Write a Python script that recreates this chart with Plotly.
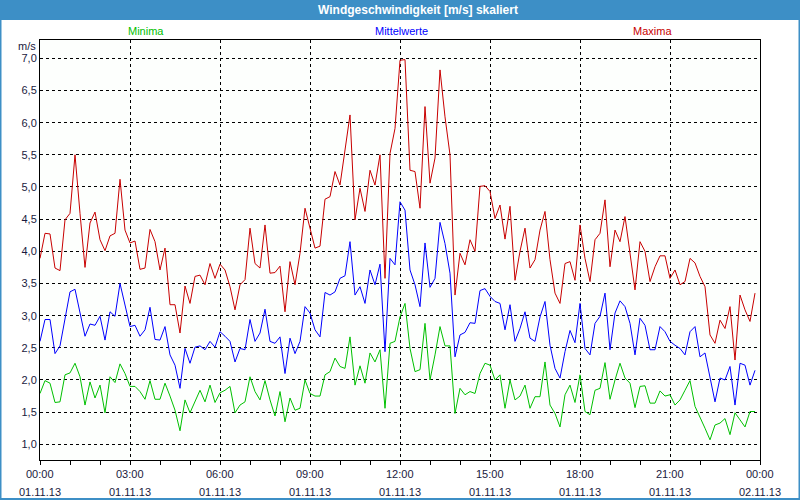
import plotly.graph_objects as go

# 10-minute samples, 00:00 .. 23:50 on 01.11.13 (hours)
n_points = 144
hours = [i / 6 for i in range(n_points)]

maxima = [
    3.89, 4.28, 4.27, 3.74, 3.70, 4.49, 4.59, 5.50, 4.59, 3.75, 4.44, 4.61, 4.18, 4.01, 4.24, 4.28, 5.12, 4.33, 4.13, 4.16, 3.72, 3.74, 4.34, 4.15,
    3.71, 4.05, 3.17, 3.17, 2.73, 3.46, 3.19, 3.61, 3.63, 3.48, 3.81, 3.58, 3.80, 3.71, 3.45, 3.09, 3.48, 3.56, 4.36, 3.81, 3.74, 4.41, 3.66, 3.67,
    3.77, 3.06, 3.84, 3.48, 3.97, 4.67, 4.36, 4.05, 4.08, 4.81, 4.85, 5.24, 5.03, 5.58, 6.12, 4.49, 4.98, 4.62, 5.26, 5.03, 5.50, 3.58, 5.52, 5.91,
    6.97, 6.98, 5.26, 5.24, 4.67, 6.25, 5.06, 5.45, 6.82, 6.09, 5.50, 3.32, 3.97, 3.79, 4.18, 4.00, 5.01, 5.02, 4.93, 4.51, 4.72, 4.19, 4.70, 3.55,
    4.00, 4.36, 3.74, 3.87, 4.33, 4.62, 3.87, 3.35, 3.19, 3.81, 3.84, 3.55, 4.41, 3.89, 3.53, 4.18, 4.28, 4.80, 3.76, 4.33, 4.15, 4.54, 3.97, 3.40,
    4.15, 4.00, 3.53, 3.76, 3.93, 3.93, 3.58, 3.71, 3.48, 3.53, 3.89, 3.82, 3.61, 3.45, 2.70, 2.57, 2.93, 2.80, 3.14, 2.31, 3.32, 3.09, 2.91, 3.35,
]

mittelwerte = [
    2.60, 2.94, 2.94, 2.41, 2.53, 2.98, 3.37, 3.41, 3.04, 2.68, 2.87, 2.85, 2.99, 2.62, 3.06, 2.99, 3.50, 3.14, 2.83, 2.85, 2.68, 2.78, 3.13, 2.63,
    2.62, 2.83, 2.39, 2.23, 1.87, 2.49, 2.26, 2.51, 2.53, 2.47, 2.60, 2.51, 2.75, 2.68, 2.60, 2.28, 2.49, 2.47, 2.94, 2.60, 2.73, 3.10, 2.60, 2.57,
    2.67, 2.10, 2.65, 2.41, 2.60, 3.14, 3.04, 2.78, 2.67, 3.36, 3.32, 3.37, 3.58, 3.62, 4.15, 3.32, 3.45, 3.19, 3.71, 3.48, 3.80, 2.44, 3.89, 3.79,
    4.77, 4.64, 3.71, 3.48, 3.14, 4.13, 3.44, 3.58, 4.45, 4.12, 3.66, 2.36, 2.70, 2.74, 2.89, 2.88, 3.39, 3.42, 3.30, 3.22, 3.19, 2.78, 3.17, 2.60,
    2.80, 3.06, 2.65, 2.60, 2.98, 3.22, 2.54, 2.18, 2.03, 2.44, 2.77, 2.58, 3.19, 2.49, 2.39, 2.88, 2.99, 3.35, 2.47, 3.04, 3.23, 3.14, 2.88, 2.39,
    2.96, 2.85, 2.47, 2.47, 2.83, 2.75, 2.60, 2.54, 2.49, 2.39, 2.75, 2.83, 2.36, 2.42, 2.05, 1.66, 2.03, 2.00, 2.21, 1.61, 2.26, 2.23, 1.92, 2.15,
]

minima = [
    1.79, 1.99, 1.95, 1.65, 1.66, 2.08, 2.11, 2.26, 2.05, 1.61, 1.97, 1.72, 1.92, 1.49, 2.05, 1.96, 2.25, 2.10, 1.90, 1.90, 1.82, 1.70, 1.99, 1.70,
    1.70, 1.95, 1.75, 1.53, 1.21, 1.69, 1.49, 1.66, 1.84, 1.66, 1.92, 1.65, 1.80, 1.84, 1.90, 1.49, 1.61, 1.66, 2.05, 1.82, 1.69, 1.99, 1.69, 1.44,
    1.82, 1.35, 1.72, 1.53, 1.56, 2.00, 1.79, 1.75, 1.75, 2.08, 2.13, 2.34, 2.21, 2.18, 2.67, 1.92, 2.22, 1.95, 2.42, 2.28, 2.47, 1.56, 2.57, 2.60,
    2.98, 3.19, 2.49, 2.13, 2.16, 2.88, 2.00, 2.39, 2.83, 2.53, 2.53, 1.48, 1.87, 1.77, 1.82, 1.79, 2.10, 2.26, 2.23, 2.00, 2.08, 1.56, 2.00, 1.69,
    1.75, 1.92, 1.56, 1.74, 1.74, 2.28, 1.61, 1.48, 1.27, 1.77, 1.92, 1.65, 2.08, 1.51, 1.46, 1.84, 1.87, 2.27, 1.70, 2.00, 2.26, 2.03, 1.95, 1.57,
    1.90, 1.91, 1.64, 1.64, 1.83, 1.75, 1.77, 1.61, 1.69, 1.84, 1.99, 1.59, 1.43, 1.25, 1.07, 1.30, 1.33, 1.40, 1.15, 1.49, 1.38, 1.27, 1.51, 1.51,
]

tick_hours = [0, 3, 6, 9, 12, 15, 18, 21, 24]
tick_times = ["00:00", "03:00", "06:00", "09:00", "12:00", "15:00", "18:00", "21:00", "00:00"]
tick_dates = ["01.11.13"] * 8 + ["02.11.13"]

title_text = "Windgeschwindigkeit [m/s] skaliert"
series_names = ["Minima", "Mittelwerte", "Maxima"]
series_colors = ["#00c000", "#0000ff", "#c80000"]

W, H = 800, 500
L, R, T, B = 40, 40, 40, 40
PW, PH = W - L - R, H - T - B


def px_x(p):
    return (p - L) / PW


def px_y(p):
    return (H - B - p) / PH


FONT = "Liberation Sans, Arial, sans-serif"
TXT = "#1a1a40"

fig = go.Figure()
for name, ys, col in zip(series_names, [minima, mittelwerte, maxima], series_colors):
    fig.add_trace(go.Scatter(x=hours, y=ys, mode="lines", name=name,
                             line=dict(color=col, width=1), hoverinfo="skip"))

fig.update_layout(
    width=W, height=H,
    margin=dict(l=L, r=R, t=T, b=B, autoexpand=False),
    paper_bgcolor="white",
    plot_bgcolor="#fdfffd",
    showlegend=False,
    separators=",.",
    font=dict(family=FONT, size=11, color=TXT),
    xaxis=dict(
        range=[0, 24], tickmode="array", tickvals=tick_hours, showticklabels=False,
        ticks="outside", ticklen=4, tickcolor="black", automargin=False,
        showgrid=True, gridcolor="black", gridwidth=1, griddash="3px,3px",
        showline=True, linecolor="black", linewidth=1, mirror=True,
        zeroline=False,
        minor=dict(tickmode="linear", tick0=0, dtick=1, ticks="outside", ticklen=4,
                   tickcolor="black", showgrid=False),
    ),
    yaxis=dict(
        range=[0.756, 7.285], tickmode="linear", tick0=1.0, dtick=0.5,
        tickformat=".1f", ticks="", automargin=False,
        showgrid=True, gridcolor="black", gridwidth=1, griddash="3px,3px",
        showline=True, linecolor="black", linewidth=1, mirror=True,
        zeroline=False, tickfont=dict(family=FONT, size=11, color=TXT),
    ),
)

shapes = [
    # window border
    dict(type="rect", xref="paper", yref="paper",
         x0=px_x(0.5), x1=px_x(W - 0.5), y0=px_y(H - 1), y1=px_y(0),
         line=dict(color="#3d8fc6", width=2), fillcolor="rgba(0,0,0,0)", layer="above"),
    # title bar
    dict(type="rect", xref="paper", yref="paper",
         x0=px_x(0), x1=px_x(W), y0=px_y(20), y1=px_y(0),
         line=dict(width=0), fillcolor="#3d8fc6", layer="above"),
]
fig.update_layout(shapes=shapes)

annotations = [
    dict(text="<b>" + title_text + "</b>", xref="paper", yref="paper",
         x=px_x(W / 2 + 18), y=px_y(10), xanchor="center", yanchor="middle",
         showarrow=False, font=dict(family=FONT, size=12, color="white")),
    dict(text="m/s", xref="paper", yref="paper", x=px_x(38), y=px_y(46),
         xanchor="right", yanchor="middle", showarrow=False,
         font=dict(family=FONT, size=11, color=TXT)),
]
legend_x = [146, 401, 652]
for name, col, lx in zip(series_names, series_colors, legend_x):
    annotations.append(dict(text=name, xref="paper", yref="paper", x=px_x(lx), y=px_y(31),
                            xanchor="center", yanchor="middle", showarrow=False,
                            font=dict(family=FONT, size=11, color=col)))
# two-row x tick labels (time / date)
for hv, tt, dd in zip(tick_hours, tick_times, tick_dates):
    annotations.append(dict(text=tt, xref="x", yref="paper", x=hv, y=px_y(474),
                            xanchor="center", yanchor="middle", showarrow=False,
                            font=dict(family=FONT, size=11, color=TXT)))
    annotations.append(dict(text=dd, xref="x", yref="paper", x=hv, y=px_y(492),
                            xanchor="center", yanchor="middle", showarrow=False,
                            font=dict(family=FONT, size=11, color=TXT)))
fig.update_layout(annotations=annotations)

fig.write_html("out.html",
               config=dict(displayModeBar=False, staticPlot=True),
               post_script="document.body.style.margin='0';document.body.style.overflow='hidden';")
